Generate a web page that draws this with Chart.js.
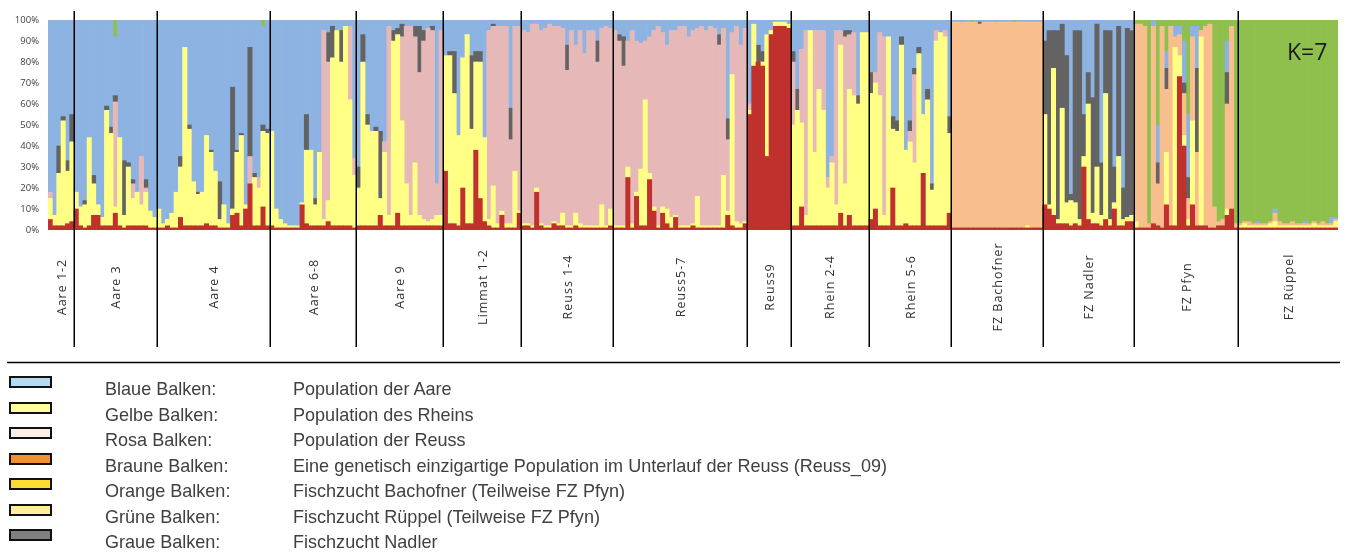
<!DOCTYPE html>
<html><head><meta charset="utf-8">
<script src="https://cdn.jsdelivr.net/npm/chart.js@4.4.0/dist/chart.umd.min.js"></script>
<style>
html,body{margin:0;padding:0;background:#fff;}
#wrap{position:relative;width:1346px;height:553px;overflow:hidden;background:#fff;}
#c{position:absolute;left:0;top:0;}
.row{position:absolute;left:0;height:24px;width:1346px;}
.sw{position:absolute;left:9px;top:0;width:39px;height:8px;border:2px solid #111;}
.txt{position:absolute;top:0;white-space:nowrap;font-family:"Liberation Sans",Arial,sans-serif;font-size:19px;line-height:24px;color:#404040;transform:scaleX(0.95);transform-origin:0 50%;}
</style></head>
<body>
<div id="wrap"><canvas id="c" width="1346" height="553"></canvas><div id="legend"></div></div>
<script>
// Population groups (x-axis groups) and number of individuals per group
const populations = ["Aare 1-2","Aare 3","Aare 4","Aare 6-8","Aare 9","Limmat 1-2","Reuss 1-4","Reuss5-7","Reuss9","Rhein 2-4","Rhein 5-6","FZ Bachofner","FZ Nadler","FZ Pfyn","FZ Rüppel"];
const popSizes = [6,19,26,20,20,18,21,31,10,18,19,21,21,24,23];
const yTickLabels = ["0%","10%","20%","30%","40%","50%","60%","70%","80%","90%","100%"];
const kLabel = "K=7";

// Membership (%) per individual, one array per cluster (stack order bottom -> top)
const red = [
 5,2,2,2,3,4,
 10,2,1,2,7,7,2,2,2,8,2,1,2,2,2,2,2,1,1,
 1,1,2,1,1,6,2,2,2,2,2,3,2,2,1,1,1,7,8,2,10,22,2,2,11,2,
 2,1,1,1,1,1,1,12,3,2,2,2,2,4,2,2,2,2,2,1,
 2,2,2,2,2,7,2,2,2,8,2,2,2,2,2,2,2,2,2,2,
 28,3,3,2,20,3,3,38,15,4,2,1,1,7,1,1,1,8,
 2,2,1,18,2,1,1,3,2,2,1,1,2,1,1,1,1,1,1,1,2,
 1,1,1,25,1,16,2,2,24,9,1,8,3,1,6,1,1,1,2,1,1,1,1,1,1,1,7,2,1,1,3,
 55,78,80,78,35,93,97,97,97,96,
 2,2,11,2,2,2,2,2,2,2,2,8,2,7,2,2,2,2,
 5,10,2,2,2,20,2,2,3,2,2,2,27,2,2,2,2,2,8,
 1,1,1,1,1,1,1,1,1,1,1,1,1,1,1,1,1,1,1,1,1,
 12,10,7,3,3,3,2,3,2,30,5,3,3,2,5,2,10,2,2,4,4,
 1,1,1,1,3,2,1,12,2,2,73,40,2,12,2,2,2,1,1,2,2,7,10,1,
 1,1,1,1,1,1,1,1,1,1,1,1,1,1,1,1,1,1,1,1,1,1,1
];
const yellow = [
 10,5,25,50,25,38,
 8,9,11,42,15,5,4,55,44,3,42,6,28,13,16,10,16,8,5,
 9,2,3,7,17,24,85,46,21,15,16,42,35,26,4,11,2,3,29,43,2,0,23,18,36,44,
 45,9,4,2,1,1,1,1,35,36,10,35,3,10,80,93,78,95,60,25,
 18,78,48,45,45,8,35,5,88,85,50,20,5,30,5,3,2,3,5,5,
 55,80,62,43,62,90,45,42,65,40,3,20,2,2,2,2,27,1,
 1,1,1,2,1,1,1,1,1,6,1,1,6,2,1,1,1,1,11,1,8,
 1,1,1,5,2,2,27,60,3,2,1,3,7,5,1,1,1,1,1,15,1,1,1,1,1,25,2,72,3,2,1,
 2,20,0,2,58,2,2,2,2,2,
 48,55,40,5,93,35,65,55,18,30,10,80,20,60,62,58,92,92,
 60,60,62,5,90,28,45,86,35,40,30,82,28,60,17,88,92,90,38,
 0,0,0,0,0,0,0,0,0,0,0,0,0,0,0,0,0,1,0,0,0,
 43,2,70,2,55,10,12,10,3,5,55,5,27,5,60,3,3,33,3,2,3,
 3,0,0,0,0,0,0,25,0,85,10,5,3,40,0,90,0,0,0,0,0,3,0,0,
 1,2,1,1,1,1,1,2,3,1,1,1,1,1,1,1,1,2,1,1,1,1,3
];
const orange = [
 0,0,0,0,0,0,
 0,0,0,0,0,0,0,0,0,0, 0,0,0,0,0,0,0,0,0,
 0,0,0,0,0,0,0,0,0,0, 0,0,0,0,0,0,0,0,0,0, 0,0,0,0,0,0,
 0,0,0,0,0,0,0,0,0,0, 0,0,0,0,0,0,0,0,0,0,
 0,0,0,0,0,0,0,0,0,0, 0,0,0,0,0,0,0,0,0,0,
 0,0,0,0,0,0,0,0,0,0, 0,0,0,0,0,0,0,0,
 0,0,0,0,0,0,0,0,0,0, 0,0,0,0,0,0,0,0,0,0, 0,
 0,0,0,0,0,0,0,0,0,0, 0,0,0,0,0,0,0,0,0,0, 0,0,0,0,0,0,0,0,0,0, 0,
 0,0,0,0,0,0,0,0,0,0,
 0,0,0,0,0,0,0,0,0,0, 0,0,0,0,0,0,0,0,
 0,0,0,0,0,0,0,0,0,0, 0,0,0,0,0,0,0,0,0,
 98,98,97,98,98,98,97,98,98,98,97,98,98,98,98,98,98,97,98,98,98,
 0,0,0,0,0,0,0,0,0,0, 0,0,0,0,0,0,0,0,0,0, 0,
 94,97,96,2,94,20,96,30,95,5,10,20,10,40,35,3,95,97,10,2,3,50,87,2,
 1,1,2,1,1,1,1,1,4,2,1,1,2,1,1,1,1,1,1,2,1,1,1
];
const pink = [
 3,0,0,0,0,0,
 0,0,0,0,0,0,0,0,0,50,0,0,0,7,0,23,2,0,0,
 0,0,0,0,0,0,0,0,0,0,0,0,0,0,0,0,0,0,0,0,0,13,0,5,0,0,
 0,0,0,0,0,0,0,0,0,0,0,0,90,66,0,0,0,0,35,8,
 0,0,0,0,0,0,5,90,0,0,40,75,90,60,68,85,92,90,15,88,
 0,0,0,0,0,0,0,0,0,0,90,76,94,88,94,40,69,88,
 92,91,96,78,92,94,96,93,94,88,74,93,80,92,82,93,93,78,84,95,86,
 93,88,76,60,92,72,60,28,65,84,95,83,78,89,88,95,95,90,92,80,95,93,95,94,86,70,34,20,93,85,92,
 3,0,0,0,0,0,0,0,0,0,
 30,0,35,88,0,58,28,38,5,3,83,7,70,26,30,0,0,0,
 0,5,30,85,0,0,0,0,0,5,42,0,0,0,0,5,0,3,0,
 0,0,1,0,0,0,0,0,0,0,1,0,0,0,0,0,0,0,0,0,0,
 0,0,0,0,0,0,0,0,0,0, 0,0,0,0,0,0,0,0,0,0, 0,
 0,0,0,0,0,0,0,0,0,0, 0,0,0,0,0,0,0,0,0,0, 0,0,0,0,
 0,0,0,0,0,0,0,0,0,0, 0,0,0,0,0,0,0,0,0,0, 0,0,0
];
const gray = [
 0,0,13,2,5,13,
 0,0,2,0,4,0,0,2,3,3,0,26,2,2,0,0,4,0,0,
 0,0,0,0,0,5,0,2,0,1,0,0,1,0,18,0,0,58,1,1,0,52,2,0,3,2,
 0,0,0,0,0,0,0,0,17,0,3,0,0,14,15,0,15,0,0,0,
 10,13,5,0,2,32,0,0,5,3,6,0,0,5,22,5,0,2,0,0,
 0,2,20,0,0,0,35,5,5,0,0,1,0,0,0,15,0,0,
 0,0,0,0,0,0,0,0,0,0,12,0,0,0,0,0,0,10,0,0,0,
 0,3,14, 0,0,0,0,0,0,0,0,0,0, 0,0,0,0,0,0,0,0,0,0, 0, 5,0,10,0,0,0,0,
 0,0,8,5,0,0,0,0,0,0,
 5,10,0,0,0,0,0,0,0,0,0,0,3,2,0,4,0,0,
 10,0,0,0,0,6,5,4,0,5,3,3,0,5,3,0,0,0,8,
 0,0,0,0,0,0,1,0,0,0,0,0,0,0,0,0,0,0,0,0,0,
 35,83,18,90,40,70,3,82,90,20,15,55,68,25,30,90,17,62,15,90,88,
 0,0,0,0,0,10,0,10,0,0,0,5,10,0,40,0,0,0,0,0,0,15,0,0,
 0,0,0,0,0,0,0,0,0,0, 0,0,0,0,0,0,0,0,0,0, 0,0,0
];
const blue = [
 82,93,60,46,67,45,
 82,89,86,56,74,88,94,41,51,28,56,67,68,76,82,65,76,91,94,
 90,97,95,92,82,65,13,50,77,82,82,55,62,72,77,88,97,32,62,54,88,13,73,75,47,52,
 53,90,95,97,98,98,98,87,45,62,85,63,5,6,3,5,5,3,3,66,
 70,7,45,53,51,53,58,3,5,4,2,3,3,3,3,5,4,3,78,5,
 17,15,15,55,18,7,17,15,15,56,5,2,3,3,3,42,3,3,
 5,6,2,2,5,4,2,3,3,4,12,5,12,5,16,5,5,10,4,3,4,
 5,7,8,10,5,10,11,10,8,5,3,6,12,5,5,3,3,8,5,4,3,5,3,4,7,4,47,6,3,12,4,
 40,2,12,15,7,5,1,1,1,2,
 15,33,14,5,5,5,5,5,75,65,5,5,5,5,6,36,6,6,
 25,25,6,8,8,46,48,8,62,48,23,13,45,33,78,5,6,5,46,
 1,1,1,1,0,1,1,1,1,1,1,1,1,1,0,1,1,1,1,1,1,
 10,5,5,5,2,17,83,5,5,45,25,37,2,68,5,5,70,3,80,4,5,
 0,0,0,0,3,18,0,8,0,5,4,20,30,5,20,0,0,0,0,0,0,15,0,0,
 0,0,0,0,1,0,0,0,2,0,0,0,0,0,0,1,0,0,0,0,0,3,1
];
const green = [
 0,0,0,0,0,0,
 0,0,0,0,0,0,0,0,0,8, 0,0,0,0,0,0,0,0,0,
 0,0,0,0,0,0,0,0,0,0, 0,0,0,0,0,0,0,0,0,0, 0,0,0,0,3,0,
 0,0,0,0,0,0,0,0,0,0, 0,0,0,0,0,0,0,0,0,0,
 0,0,0,0,0,0,0,0,0,0, 0,0,0,0,0,0,0,0,0,0,
 0,0,0,0,0,0,0,0,0,0, 0,0,0,0,0,0,0,0,
 0,0,0,0,0,0,0,0,0,0, 0,0,0,0,0,0,0,0,0,0, 0,
 0,0,0,0,0,0,0,0,0,0, 0,0,0,0,0,0,0,0,0,0, 0,0,0,0,0,0,0,0,0,0, 0,
 0,0,0,0,0,0,0,0,0,0,
 0,0,0,0,0,0,0,0,0,0, 0,0,0,0,0,0,0,0,
 0,0,0,0,0,0,0,0,0,0, 0,0,0,0,0,0,0,0,0,
 0,0,0,0,1,0,0,0,0,0,0,0,0,0,1,0,0,0,0,0,0,
 0,0,0,0,0,0,0,0,0,0, 0,0,0,0,0,0,0,0,0,0, 0,
 2,2,3,97,0,50,3,15,3,3,3,10,45,3,3,5,3,2,89,96,95,10,3,97,
 97,96,96,97,96,97,97,96,90,96,97,97,96,97,97,96,97,96,97,96,97,94,94
];

// Legend (drawn below the chart)
const legendColors = ["#B4DAEF","#FFFF99","#FBF0E7","#F0902F","#FFDC33","#FFEE9C","#808080"];
const legendNames = ["Blaue Balken:","Gelbe Balken:","Rosa Balken:","Braune Balken:","Orange Balken:","Grüne Balken:","Graue Balken:"];
const legendTexts = ["Population der Aare","Population des Rheins","Population der Reuss","Eine genetisch einzigartige Population im Unterlauf der Reuss (Reuss_09)","Fischzucht Bachofner (Teilweise FZ Pfyn)","Fischzucht Rüppel (Teilweise FZ Pfyn)","Fischzucht Nadler"];

const seriesList = [
  {name:"Rot", values:red, color:"#C0312E"},
  {name:"Gelb", values:yellow, color:"#FFFF85"},
  {name:"Orange", values:orange, color:"#F9BE8E"},
  {name:"Rosa", values:pink, color:"#E6B8B7"},
  {name:"Grau", values:gray, color:"#636363"},
  {name:"Blau", values:blue, color:"#8DB3E2"},
  {name:"Grün", values:green, color:"#8FBF4C"}
];

const labels = red.map((_, i) => "Ind " + (i + 1));

const popPlugin = {
  id: "pops",
  afterDraw(chart) {
    const ctx = chart.ctx, x = chart.scales.x;
    const half = (x.getPixelForValue(1) - x.getPixelForValue(0)) / 2;
    ctx.save();
    ctx.strokeStyle = "#000";
    ctx.lineWidth = 1.5;
    ctx.fillStyle = "#333";
    ctx.font = '12.5px "Open Sans"';
    if ('letterSpacing' in ctx) ctx.letterSpacing = "1px";
    let start = 0;
    popSizes.forEach((size, i) => {
      const end = start + size;
      const left = x.getPixelForValue(start) - half;
      const right = x.getPixelForValue(end - 1) + half;
      if (i > 0) {
        ctx.beginPath();
        ctx.moveTo(Math.round(left) + 0.25, 11);
        ctx.lineTo(Math.round(left) + 0.25, 347);
        ctx.stroke();
      }
      ctx.save();
      ctx.translate((left + right) / 2 + 1, 287);
      ctx.rotate(-Math.PI / 2);
      ctx.textAlign = "center";
      ctx.textBaseline = "middle";
      ctx.fillText(populations[i], 0, 0);
      ctx.restore();
      start = end;
    });
    // horizontal rule under the labels
    ctx.beginPath();
    ctx.moveTo(7, 362.5);
    ctx.lineTo(1340, 362.5);
    ctx.stroke();
    // K label
    if ('letterSpacing' in ctx) ctx.letterSpacing = "0px";
    ctx.font = '23px "Open Sans"';
    ctx.fillStyle = "#1a1a1a";
    ctx.textAlign = "left";
    ctx.textBaseline = "alphabetic";
    ctx.fillText(kLabel, 1287, 60);
    ctx.restore();
  }
};

new Chart(document.getElementById("c"), {
  type: "bar",
  data: {
    labels: labels,
    datasets: seriesList.map(s => ({
      label: s.name,
      data: s.values.map(v => v === 0 ? null : v),
      backgroundColor: s.color,
      borderWidth: 0,
      barPercentage: 1,
      categoryPercentage: 1,
      stack: "q"
    }))
  },
  options: {
    responsive: false,
    animation: false,
    devicePixelRatio: 1,
    layout: {padding: {left: 0, right: 8, top: 20, bottom: 323}},
    plugins: {legend: {display: false}, tooltip: {enabled: false}},
    scales: {
      x: {stacked: true, display: false},
      y: {
        stacked: true, min: 0, max: 100,
        afterFit(s) { s.width = 48; },
        grid: {display: false, drawTicks: false},
        border: {display: false},
        ticks: {stepSize: 10, padding: 9, color: "#404040",
          font: {family: "Open Sans", size: 9.5},
          callback: (v) => yTickLabels[Math.round(v / 10)]}
      }
    }
  },
  plugins: [popPlugin]
});

// HTML legend
const legend = document.getElementById("legend");
legendNames.forEach((name, i) => {
  const row = document.createElement("div");
  row.className = "row";
  row.style.top = (376 + 25.5 * i) + "px";
  const sw = document.createElement("div");
  sw.className = "sw";
  sw.style.background = legendColors[i];
  const t1 = document.createElement("div");
  t1.className = "txt"; t1.style.left = "105px"; t1.style.top = "1px"; t1.textContent = name;
  const t2 = document.createElement("div");
  t2.className = "txt"; t2.style.left = "293px"; t2.style.top = "1px"; t2.textContent = legendTexts[i];
  row.appendChild(sw); row.appendChild(t1); row.appendChild(t2);
  legend.appendChild(row);
});
</script>
</body></html>
